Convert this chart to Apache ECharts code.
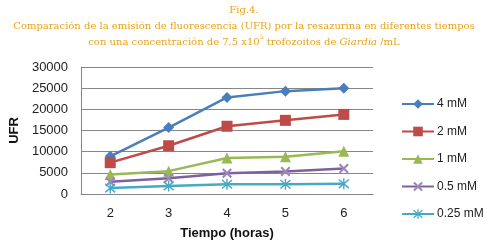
<!DOCTYPE html>
<html>
<head>
<meta charset="utf-8">
<script src="https://cdn.jsdelivr.net/npm/echarts@6/dist/echarts.min.js"></script>
<style>
  html, body { margin: 0; padding: 0; background: #fff; }
  #chart { width: 488px; height: 248px; }
</style>
</head>
<body>
<div id="chart"></div>
<script>
// tiempo (horas)
const hours = ["2", "3", "4", "5", "6"];
const seriesNames = ["4 mM", "2 mM", "1 mM", "0.5 mM", "0.25 mM"];
const ufr4 = [8900, 15700, 22800, 24300, 25000];
const ufr2 = [7400, 11400, 16000, 17400, 18800];
const ufr1 = [4600, 5400, 8500, 8800, 10100];
const ufr05 = [2900, 3700, 4900, 5300, 6000];
const ufr025 = [1400, 1900, 2300, 2300, 2400];

const colors = ["#4a7ebb", "#be4b48", "#98b954", "#7d60a0", "#46aac5"];
const xMark = "path://M0,1.5 L1.5,0 L5,3.5 L8.5,0 L10,1.5 L6.5,5 L10,8.5 L8.5,10 L5,6.5 L1.5,10 L0,8.5 L3.5,5 Z";
const starMark = "path://M4.4,0 L5.6,0 L5.6,10 L4.4,10 Z M0.4,1.6 L1.2,0.6 L9.6,8.4 L8.8,9.4 Z M0.4,8.4 L8.8,0.6 L9.6,1.6 L1.2,9.4 Z";
const gold = "#e8a317";

const chart = echarts.init(document.getElementById("chart"));

function mkSeries(name, data, color, symbol, size, markColor) {
  return {
    name: name,
    type: "line",
    data: data,
    symbol: symbol,
    symbolSize: size,
    showAllSymbol: true,
    lineStyle: { color: color, width: 2.5 },
    itemStyle: { color: markColor || color },
    emphasis: { disabled: true },
  };
}

chart.setOption({
  animation: false,
  textStyle: { fontFamily: "Liberation Sans" },
  title: {
    left: "center",
    top: -3,
    itemGap: 0,
    text: "Fig.4.\nComparación de la emisión de fluorescencia (UFR) por la resazurina en diferentes tiempos\n{n|con una concentración de 7.5 x10}{s|5}{n| trofozoitos de }{i|Giardia}{n| /mL}",
    textStyle: {
      color: gold,
      fontFamily: "DejaVu Serif",
      fontWeight: "normal",
      fontSize: 10,
      lineHeight: 16,
      rich: {
        n: { color: gold, fontFamily: "DejaVu Serif", fontSize: 10, lineHeight: 16 },
        s: { color: gold, fontFamily: "DejaVu Serif", fontSize: 6, verticalAlign: "top", lineHeight: 16, padding: [0, 0, 5, 0] },
        i: { color: gold, fontFamily: "DejaVu Serif", fontStyle: "italic", fontSize: 10, lineHeight: 16 },
      },
    },
  },
  grid: { left: 80, right: 115, top: 67, bottom: 54 },
  legend: {
    orient: "vertical",
    left: 396,
    top: 93,
    itemGap: 15.5,
    itemWidth: 32,
    itemHeight: 12,
    textStyle: { fontSize: 12, color: "#222", fontFamily: "Liberation Sans", padding: [0, 0, 0, -2] },
    data: seriesNames,
  },
  xAxis: {
    type: "category",
    data: hours,
    name: "Tiempo (horas)",
    nameLocation: "middle",
    nameGap: 33,
    nameTextStyle: { fontWeight: "bold", fontSize: 13, color: "#111" },
    axisLine: { lineStyle: { color: "#868686", width: 1 } },
    axisTick: { show: false },
    axisLabel: { color: "#222", fontSize: 13, margin: 13 },
  },
  yAxis: {
    type: "value",
    min: 0,
    max: 30000,
    interval: 5000,
    name: "UFR",
    nameLocation: "middle",
    nameGap: 52,
    nameTextStyle: { fontWeight: "bold", fontSize: 13, color: "#111" },
    axisLine: { show: true, lineStyle: { color: "#868686", width: 1 } },
    axisTick: { show: false },
    axisLabel: { color: "#222", fontSize: 13, margin: 13, formatter: (v) => String(v) },
    splitLine: { lineStyle: { color: "#868686", width: 1 } },
  },
  series: [
    mkSeries(seriesNames[0], ufr4, colors[0], "diamond", 11),
    mkSeries(seriesNames[1], ufr2, colors[1], "rect", 11),
    mkSeries(seriesNames[2], ufr1, colors[2], "triangle", 11),
    mkSeries(seriesNames[3], ufr05, colors[3], xMark, 10, "#9d86bd"),
    mkSeries(seriesNames[4], ufr025, colors[4], starMark, 11),
  ],
});
</script>
</body>
</html>
